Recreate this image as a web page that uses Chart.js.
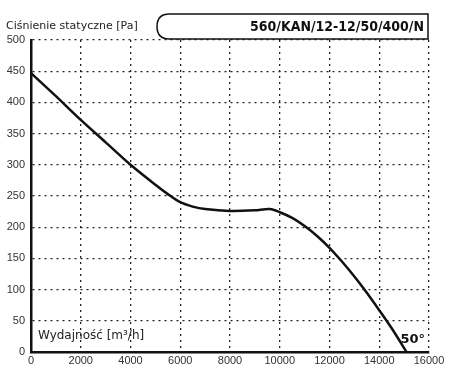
<!DOCTYPE html>
<html>
<head>
<meta charset="utf-8">
<script src="https://cdn.jsdelivr.net/npm/chart.js@4/dist/chart.umd.min.js"></script>
<style>
  html, body { margin: 0; padding: 0; background: #fff; }
  #wrap { width: 450px; height: 375px; }
</style>
</head>
<body>
<div id="wrap"><canvas id="fan-chart" width="450" height="375"></canvas></div>
<script>
// curve
const flowValues = [0, 1000, 2000, 3000, 4000, 5000, 5500, 6000, 6500, 7000, 8000, 9000, 9600, 10000, 10500, 11000, 11500, 12000, 12500, 13000, 13500, 14000, 14500, 15100];
const pressureValues = [447, 410, 372, 336, 300, 268, 253, 240, 233, 229, 226, 227, 229, 224, 215, 202, 186, 167, 145, 121, 95, 67, 38, 0];
const xTicks = [0, 2000, 4000, 6000, 8000, 10000, 12000, 14000, 16000];
const yTicks = [0, 50, 100, 150, 200, 250, 300, 350, 400, 450, 500];

const modelName = '560/KAN/12-12/50/400/N';
const yTitle = 'Ciśnienie statyczne [Pa]';
const xTitle = 'Wydajność [m³/h]';
const angleLabel = '50°';

const points = flowValues.map((x, i) => ({ x: x, y: pressureValues[i] }));

const labelsPlugin = {
    id: 'labels',
    afterDraw(chart) {
        const ctx = chart.ctx;
        const area = chart.chartArea;
        ctx.save();

        // header box, rounded on the left
        const bx0 = 157, bx1 = area.right - 1, by0 = 14, by1 = 39;
        const r = (by1 - by0) / 2;
        ctx.beginPath();
        ctx.moveTo(bx0 + r, by0);
        ctx.lineTo(bx1, by0);
        ctx.lineTo(bx1, by1);
        ctx.lineTo(bx0 + r, by1);
        ctx.quadraticCurveTo(bx0, by1, bx0, by0 + r);
        ctx.quadraticCurveTo(bx0, by0, bx0 + r, by0);
        ctx.closePath();
        ctx.fillStyle = '#fff';
        ctx.fill();
        ctx.strokeStyle = '#111';
        ctx.lineWidth = 1.5;
        ctx.stroke();

        ctx.fillStyle = '#111';
        ctx.font = 'bold 14px "DejaVu Sans Condensed", "DejaVu Sans", sans-serif';
        ctx.textAlign = 'right';
        ctx.textBaseline = 'middle';
        ctx.fillText(modelName, bx1 - 4, (by0 + by1) / 2 + 1);

        ctx.font = '11px "DejaVu Sans", sans-serif';
        ctx.textAlign = 'left';
        ctx.fillStyle = '#222';
        ctx.fillText(yTitle, 6, 26);

        // x axis title inside the plot
        ctx.font = '12px "DejaVu Sans", sans-serif';
        ctx.fillText(xTitle, area.left + 7, area.bottom - 16);

        ctx.font = 'bold 13px "DejaVu Sans", sans-serif';
        ctx.textAlign = 'right';
        ctx.fillStyle = '#111';
        ctx.fillText(angleLabel, area.right - 4, area.bottom - 12);

        ctx.restore();
    }
};

new Chart(document.getElementById('fan-chart').getContext('2d'), {
    type: 'scatter',
    data: {
        datasets: [{
            data: points,
            showLine: true,
            borderColor: '#111',
            borderWidth: 2.5,
            pointRadius: 0,
            tension: 0.3,
            fill: false
        }]
    },
    options: {
        responsive: false,
        animation: false,
        layout: { padding: { top: 40, right: 21, left: 0, bottom: 0 } },
        plugins: { legend: { display: false }, tooltip: { enabled: false } },
        scales: {
            x: {
                type: 'linear',
                min: 0,
                max: 16000,
                afterBuildTicks: (axis) => { axis.ticks = xTicks.map(v => ({ value: v })); },
                afterFit: (axis) => { axis.height = 23; },
                ticks: {
                    color: '#333',
                    font: { family: '"Liberation Sans", Arial, sans-serif', size: 11 },
                    padding: 2,
                    maxRotation: 0,
                    callback: (v) => String(v)
                },
                grid: { color: '#222', lineWidth: 1.3, drawTicks: false },
                border: { color: '#111', width: 2.5, dash: [2, 4] }
            },
            y: {
                min: 0,
                max: 500,
                afterBuildTicks: (axis) => { axis.ticks = yTicks.map(v => ({ value: v })); },
                afterFit: (axis) => { axis.width = 31; },
                ticks: {
                    color: '#333',
                    font: { family: '"Liberation Sans", Arial, sans-serif', size: 11 },
                    padding: 6
                },
                grid: { color: '#222', lineWidth: 1.3, drawTicks: false },
                border: { color: '#111', width: 2.5, dash: [2, 4] }
            }
        }
    },
    plugins: [labelsPlugin]
});
</script>
</body>
</html>
